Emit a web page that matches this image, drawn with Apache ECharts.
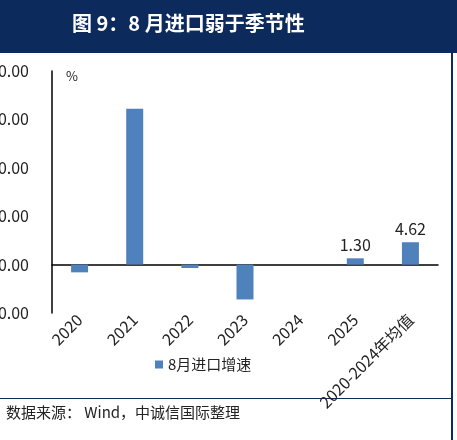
<!DOCTYPE html><html><head><meta charset="utf-8"><script src="https://cdn.jsdelivr.net/npm/echarts@6/dist/echarts.min.js"></script>
<style>body{margin:0}#c{width:457px;height:440px}</style></head><body><div id="c"></div><script>
const categories=['2020','2021','2022','2023','2024','2025','2020-2024年均值'];
const values=[-1.6,32.2,-0.7,-7.2,0,1.30,4.62];
const labeled=[false,false,false,false,false,true,true];
const chart=echarts.init(document.getElementById('c'));
const F='"Noto Sans CJK SC", sans-serif';
chart.setOption({
 animation:false,
 graphic:[
  {type:'rect',shape:{x:0,y:0,width:457,height:53},style:{fill:'#0d2a5c'}},
  {type:'text',left:72,top:13,style:{text:'图 9：8 月进口弱于季节性',fill:'#fff',font:'bold 20px '+F}},
  {type:'rect',shape:{x:451,y:0,width:2,height:440},style:{fill:'#0d2a5c'}},
  {type:'rect',shape:{x:0,y:398,width:452,height:1},style:{fill:'#0d2a5c'}},
  {type:'text',left:6,top:405,style:{text:'数据来源： Wind，中诚信国际整理',fill:'#222',font:'15px '+F}},
  {type:'text',left:66,top:70,style:{text:'%',fill:'#222',font:'13px '+F}}
 ],
 grid:{left:52,right:19,top:71,height:242,outerBoundsMode:'none',containLabel:false},
 legend:{top:352,left:150,itemWidth:8,itemHeight:8,icon:'rect',textStyle:{fontFamily:F,fontSize:15,color:'#222'},data:['8月进口增速']},
 xAxis:{type:'category',data:categories,axisLine:{lineStyle:{color:'#000',width:1.5}},axisTick:{show:false},
  axisLabel:{rotate:45,color:'#222',fontSize:16,fontFamily:F,interval:0,margin:4}},
 yAxis:{type:'value',min:-10,max:40,interval:10,splitLine:{show:false},axisLine:{show:true,lineStyle:{color:'#000',width:1.5}},axisTick:{show:false},
  axisLabel:{color:'#222',fontSize:16,fontFamily:F,margin:23,formatter:v=>v.toFixed(2)}},
 series:[{name:'8月进口增速',type:'bar',barWidth:17,itemStyle:{color:'#4f81bd'},
  data:values.map((v,i)=>({value:v,label:{show:labeled[i],position:'top',color:'#222',fontSize:16,fontFamily:F,formatter:p=>p.value.toFixed(2)}}))}]
});
</script></body></html>
